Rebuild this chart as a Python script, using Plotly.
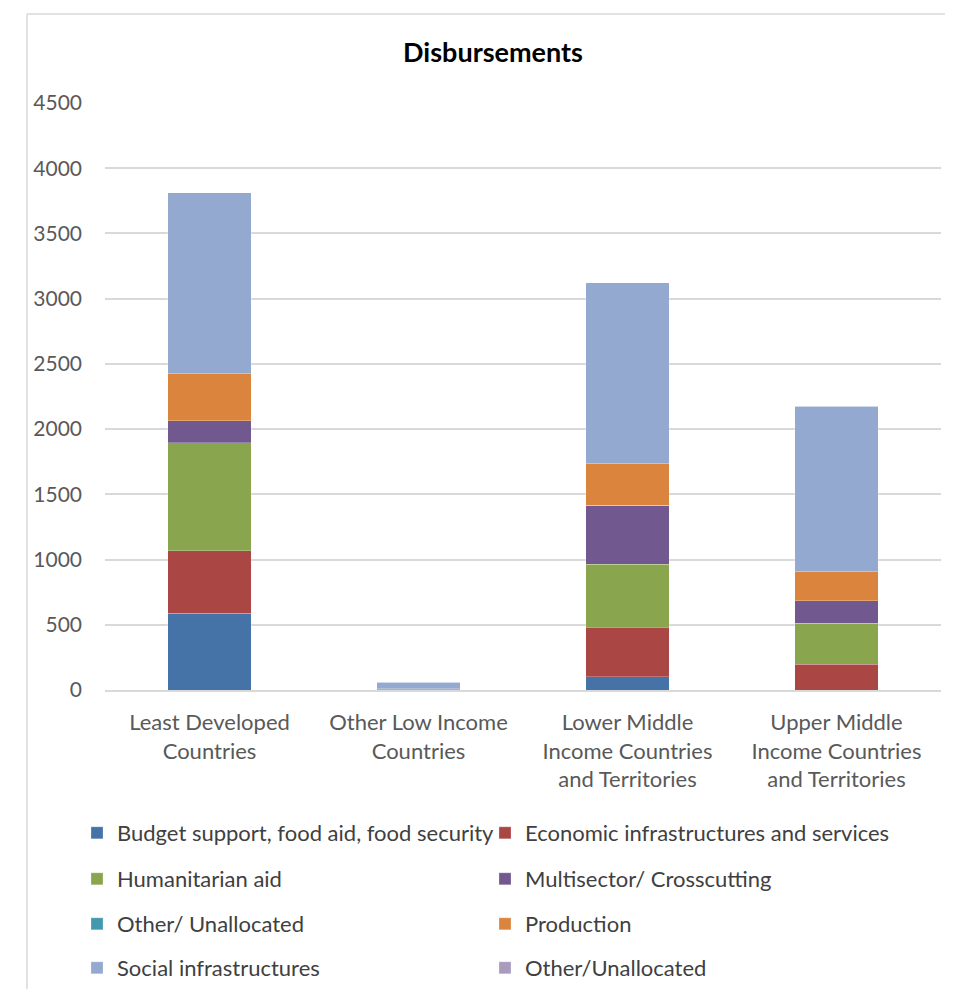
import plotly.graph_objects as go

categories = [
    "Least Developed<br>Countries",
    "Other Low Income<br>Countries",
    "Lower Middle<br>Income Countries<br>and Territories",
    "Upper Middle<br>Income Countries<br>and Territories",
]

series_names = [
    "Budget support, food aid, food security",
    "Economic infrastructures and services",
    "Humanitarian aid",
    "Multisector/ Crosscutting",
    "Other/ Unallocated",
    "Production",
    "Social infrastructures",
    "Other/Unallocated",
]

budget_support = [590, 0, 102, 0]
economic_infra = [476, 0, 379, 197]
humanitarian = [830, 0, 483, 314]
multisector = [169, 0, 452, 174]
other_unalloc_a = [0, 2, 0, 0]
production = [363, 8, 322, 225]
social_infra = [1384, 48, 1385, 1267]
other_unalloc_b = [0, 2, 0, 0]

series_values = [budget_support, economic_infra, humanitarian, multisector,
                 other_unalloc_a, production, social_infra, other_unalloc_b]

colors = ["#4572A7", "#AA4643", "#89A54E", "#71588F",
          "#4198AF", "#DB843D", "#93A9CF", "#A99BBD"]

y_ticks = [0, 500, 1000, 1500, 2000, 2500, 3000, 3500, 4000, 4500]

FONT = "Lato"
OFF = 8  # page body margin
W, H = 937, 981
# plot area in screen px: x 105..941, y 103..690
L = 105 - OFF
T = 103 - OFF
R = W - (941 - OFF)
B = H - (690 - OFF)
pw, ph = W - L - R, H - T - B

legend_rows = ["legend", "legend2", "legend3", "legend4"]

fig = go.Figure()
for i, (name, vals, col) in enumerate(zip(series_names, series_values, colors)):
    fig.add_trace(go.Bar(
        x=categories, y=vals, name=name,
        marker=dict(color=col, line=dict(color="rgba(255,255,255,0.5)", width=0.5)),
        legend=legend_rows[i // 2],
    ))

def px_to_paper_x(px):
    return (px - OFF - L) / pw

def px_to_paper_y(py):
    return (H - B - (py - OFF)) / ph

legend_y_px = [833, 879, 924, 968]
legend_common = dict(
    orientation="h", entrywidth=363, entrywidthmode="pixels",
    traceorder="normal",
    font=dict(family=FONT, size=22, color="#404040"),
    xanchor="left", yanchor="middle", bgcolor="rgba(0,0,0,0)",
    itemclick=False, itemdoubleclick=False,
)
layout_legends = {}
for key, ypx in zip(legend_rows, legend_y_px):
    layout_legends[key] = dict(legend_common, x=px_to_paper_x(77), y=px_to_paper_y(ypx))

fig.update_layout(
    width=W, height=H,
    margin=dict(l=L, r=R, t=T, b=B, autoexpand=False),
    paper_bgcolor="white", plot_bgcolor="white",
    barmode="stack", bargap=0.6,
    title=dict(text="<b>Disbursements</b>", x=(493 - OFF) / W, xanchor="center",
               y=1 - (53 - OFF) / H, yanchor="middle",
               font=dict(family=FONT, size=27, color="black")),
    font=dict(family=FONT, color="#595959"),
    xaxis=dict(showgrid=False, tickfont=dict(family=FONT, size=22, color="#595959"),
               showline=True, linecolor="#d9d9d9", linewidth=1.5, ticks="",
               ticklabelstandoff=12, automargin=False),
    yaxis=dict(range=[0, 4500], tickvals=y_ticks, showgrid=True, gridcolor="#d9d9d9",
               gridwidth=1.5, zeroline=False,
               tickfont=dict(family=FONT, size=21, color="#595959"), ticks="",
               ticklabelstandoff=22, automargin=False),
    shapes=[
        dict(type="line", xref="paper", yref="paper",
             x0=px_to_paper_x(27), x1=px_to_paper_x(27),
             y0=px_to_paper_y(14), y1=px_to_paper_y(1000),
             line=dict(color="#d9d9d9", width=1.5)),
        dict(type="line", xref="paper", yref="paper",
             x0=px_to_paper_x(27), x1=px_to_paper_x(960),
             y0=px_to_paper_y(14), y1=px_to_paper_y(14),
             line=dict(color="#d9d9d9", width=1.5)),
    ],
    **layout_legends,
)

fig.write_html("out.html")
